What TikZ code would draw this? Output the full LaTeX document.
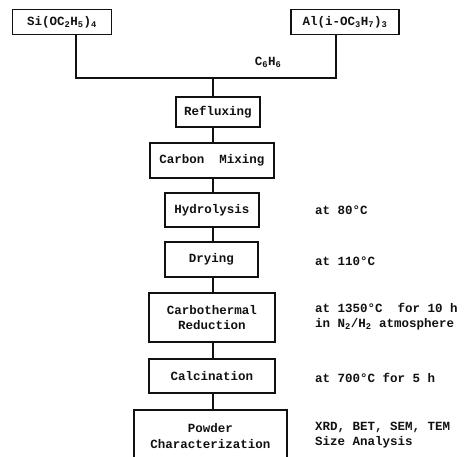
\documentclass[tikz,border=0pt]{standalone}
\usepackage{fontspec}
\setmonofont{Liberation Mono}
\usepackage{tikz}
\usetikzlibrary{calc,positioning}
\definecolor{flowInk}{RGB}{17,17,17}

\begin{document}
\begin{tikzpicture}[x=1pt,y=-1pt,
    procbox/.style={draw=flowInk, line width=1.3pt, align=center, inner sep=0pt,
        text=flowInk, font=\ttfamily\bfseries\fontsize{12.5}{15.5}\selectfont},
    condnote/.style={anchor=west, align=left, inner sep=0pt, text=flowInk,
        font=\ttfamily\bfseries\fontsize{12.5}{15.5}\selectfont},
    flowline/.style={draw=flowInk, line width=1.3pt}]
    \useasboundingbox (0,0) rectangle (476,456);
    \clip (0,0) rectangle (476,456);

    % starting materials
    \node[procbox, minimum width=99, minimum height=25] (si) at (62,22)
        {Si(OC\textsubscript{2}H\textsubscript{5})\textsubscript{4}};
    \node[procbox, minimum width=108, minimum height=25] (al) at (345,22)
        {Al(i-OC\textsubscript{3}H\textsubscript{7})\textsubscript{3}};
    \coordinate (join) at (213,78);
    \node[condnote, anchor=center] (solvent) at (268,62)
        {C\textsubscript{6}H\textsubscript{6}};

    % process steps
    \node[procbox, minimum width=84, minimum height=30] (reflux) at (218,112) {Refluxing};
    \node[procbox, minimum width=124, minimum height=35] (mix) at (212,160.5) {Carbon\ \ Mixing};
    \node[procbox, minimum width=94, minimum height=34] (hydro) at (212,210) {Hydrolysis};
    \node[procbox, minimum width=93, minimum height=35] (dry) at (211.5,259.5) {Drying};
    \node[procbox, minimum width=126, minimum height=49] (carbo) at (212,317.5)
        {Carbothermal\\Reduction};
    \node[procbox, minimum width=126, minimum height=34] (calc) at (212,376) {Calcination};
    \node[procbox, minimum width=153, minimum height=52] (powder) at (210.5,436)
        {Powder\\Characterization};

    % conditions
    \node[condnote] (hydrocond) at (315,210) {at 80°C};
    \node[condnote] (drycond) at (315,261) {at 110°C};
    \node[condnote] (carbocond) at (315,316.5)
        {at 1350°C\ \ for 10 h\\in N\textsubscript{2}/H\textsubscript{2} atmosphere};
    \node[condnote] (calccond) at (315,378) {at 700°C for 5 h};
    \node[condnote] (powdercond) at (315,435)
        {XRD, BET, SEM, TEM\\Size Analysis};

    % connectors
    \draw[flowline] ([xshift=14]si.south) |- (join) -| ([xshift=-9]al.south);
    \draw[flowline] (join) -- (join |- reflux.north);
    \foreach \a/\b in {reflux/mix, mix/hydro, hydro/dry, dry/carbo, carbo/calc, calc/powder}
        \draw[flowline] (\a.south -| join) -- (\b.north -| join);
\end{tikzpicture}
\end{document}
